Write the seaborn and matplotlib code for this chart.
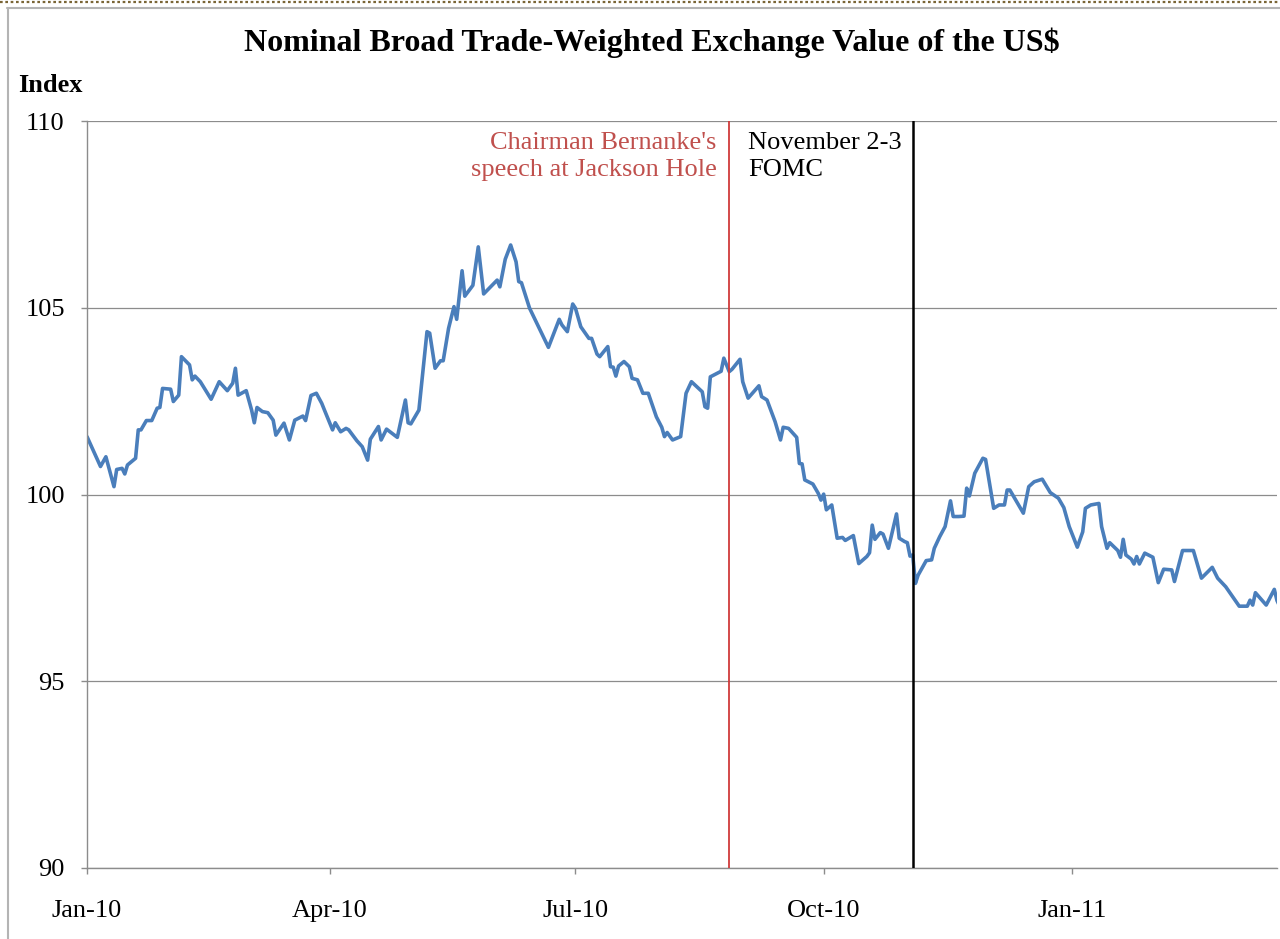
import numpy as np
import pandas as pd
import matplotlib
matplotlib.use("Agg")
import matplotlib.pyplot as plt
import matplotlib.dates as mdates
from matplotlib.lines import Line2D
import seaborn as sns

# ---------------- data ----------------
start_date = "2010-01-01"
end_date = "2011-03-18"
day_offsets = [
    0, 5, 7, 10, 11, 13, 14, 15, 18, 19, 20, 22, 24, 26, 27, 28, 31, 32, 34, 35,
    38, 39, 40, 42, 46, 49, 52, 54, 55, 56, 59, 61, 62, 63, 65, 67, 69, 70, 73, 75,
    77, 80, 81, 83, 85, 87, 88, 91, 92, 94, 96, 97, 100, 102, 104, 105, 108, 109, 111, 115,
    118, 119, 120, 123, 126, 127, 129, 131, 132, 134, 136, 137, 139, 140,
    143, 145, 147, 152, 153, 155, 157, 159, 160, 161, 164, 167, 171, 175, 176, 178,
    180, 181, 183, 186, 187, 189, 190, 193, 194, 195, 196, 197, 199, 201, 202, 204, 206, 208, 211,
    213, 214, 215, 217, 220, 222, 224, 228, 229, 230, 231, 235, 236, 238, 239, 242, 243, 245,
    249, 250, 252, 255, 257, 258, 260, 263, 264, 265, 266, 269, 271, 272, 273, 274, 276, 278,
    280, 281, 284,
    286, 289, 290, 291, 292, 294, 295, 297, 300, 301, 303, 304, 305, 306, 307, 308, 311, 313,
    314, 316, 318, 320, 321, 323, 325, 326, 327, 329, 332, 333, 336, 338, 340, 341, 342, 344,
    347, 349, 351, 354, 357, 360,
    362, 364, 367, 369, 370, 372, 375, 376, 378, 379, 382, 383, 384, 385, 387, 388, 389, 390,
    392, 395, 397, 399, 402, 403, 406, 410, 413, 417, 419, 422, 427, 430, 431, 432, 433, 437,
    440, 441, 442,
]
index_values = [
    101.55, 100.75, 101.01, 100.21, 100.67, 100.70, 100.55, 100.79, 100.97, 101.73,
    101.73, 101.98, 101.98, 102.31, 102.33, 102.84, 102.82, 102.49, 102.66, 103.69,
    103.47, 103.07, 103.17, 103.02, 102.55, 103.02, 102.78, 102.98, 103.38, 102.66,
    102.78, 102.26, 101.92, 102.33, 102.22, 102.19, 101.99, 101.59, 101.91, 101.46,
    101.99, 102.10, 101.98, 102.65, 102.71, 102.44, 102.26, 101.73, 101.92, 101.68,
    101.77, 101.73, 101.44, 101.28, 100.92, 101.48, 101.82, 101.46, 101.75, 101.53,
    102.53, 101.92, 101.89, 102.26, 104.36, 104.32, 103.38, 103.58, 103.58, 104.45,
    105.03, 104.69, 105.99, 105.31,
    105.60, 106.63, 105.37, 105.74, 105.56, 106.30, 106.68, 106.23, 105.70, 105.67,
    104.99, 104.54, 103.94, 104.69, 104.54, 104.36,
    105.10, 104.99, 104.49, 104.18, 104.18, 103.76, 103.69, 103.96, 103.42, 103.41,
    103.17, 103.44, 103.56, 103.42, 103.11, 103.07, 102.71, 102.71, 102.08,
    101.80, 101.55, 101.66, 101.46, 101.55, 102.71, 103.02, 102.75, 102.35, 102.31,
    103.15, 103.30, 103.65, 103.29, 103.35, 103.62, 103.02, 102.58,
    102.91, 102.62, 102.53, 101.95, 101.46, 101.80, 101.77, 101.53, 100.83, 100.82,
    100.39, 100.28, 100.03, 99.85, 100.01, 99.59, 99.72, 98.83,
    98.85, 98.77, 98.90,
    98.15, 98.34, 98.44, 99.18, 98.80, 98.98, 98.94, 98.56, 99.48, 98.83,
    98.74, 98.71, 98.35, 98.38, 97.62, 97.84, 98.23, 98.25,
    98.56, 98.87, 99.14, 99.83, 99.41, 99.41, 99.42, 100.17, 99.96, 100.57,
    100.97, 100.94, 99.63, 99.72, 99.72, 100.12, 100.12, 99.87,
    99.50, 100.21, 100.34, 100.41, 100.05, 99.90,
    99.65, 99.14, 98.59, 99.00, 99.63, 99.72, 99.76, 99.14, 98.56, 98.71,
    98.50, 98.32, 98.80, 98.38, 98.27, 98.14, 98.34, 98.14,
    98.43, 98.32, 97.64, 98.00, 97.98, 97.67, 98.50, 98.50, 97.76, 98.05,
    97.76, 97.53, 97.01, 97.01, 97.17, 97.04, 97.37, 97.04,
    97.46, 97.16, 97.01,
]
event_dates = ["2010-08-27", "2010-11-03"]
event_labels = ["Chairman Bernanke's\nspeech at Jackson Hole", "November 2-3\nFOMC"]
y_ticks = [90, 95, 100, 105, 110]
x_tick_dates = ["2010-01-01", "2010-04-01", "2010-07-01", "2010-10-01", "2011-01-01"]
title = "Nominal Broad Trade-Weighted Exchange Value of the US$"
y_label = "Index"

assert len(day_offsets) == len(index_values)

dates = pd.Timestamp(start_date) + pd.to_timedelta(day_offsets, unit="D")
df = pd.DataFrame({"date": dates, "value": index_values})

# ---------------- style ----------------
sns.set_theme(style="white")
plt.rcParams["font.family"] = ["Liberation Serif", "DejaVu Serif"]
plt.rcParams["text.color"] = "black"
plt.rcParams["xtick.labelcolor"] = "black"
plt.rcParams["ytick.labelcolor"] = "black"

fig = plt.figure(figsize=(12.8, 9.39), dpi=100)
ax = fig.add_axes([87 / 1280, 1 - 868 / 939, (1277 - 87) / 1280, (868 - 121) / 939])

sns.lineplot(data=df, x="date", y="value", ax=ax, color="#4A7EBB", linewidth=2.6)

grid_c = "#8C8C8C"
ax.set_ylim(90, 110)
ax.set_yticks(y_ticks)
ax.set_xlim(pd.Timestamp(start_date), pd.Timestamp(end_date))
ax.set_xticks(pd.to_datetime(x_tick_dates))
ax.xaxis.set_major_formatter(mdates.DateFormatter("%b-%y"))
ax.yaxis.grid(True, color=grid_c, linewidth=0.9)
ax.xaxis.grid(False)
for s in ["top", "right"]:
    ax.spines[s].set_visible(False)
for s in ["left", "bottom"]:
    ax.spines[s].set_color(grid_c)
    ax.spines[s].set_linewidth(1.0)
ax.tick_params(axis="y", which="major", direction="out", length=4, width=1, color=grid_c,
               labelsize=19, pad=12, left=True, labelcolor="black")
ax.tick_params(axis="x", which="major", direction="out", length=4, width=1, color=grid_c,
               labelsize=19, pad=19, bottom=True, labelcolor="black")
ax.set_xlabel("")
ax.set_ylabel("")

# event lines
ev = pd.to_datetime(event_dates)
ax.axvline(ev[0], color="#D03A3A", linewidth=1.3, zorder=3)
ax.axvline(ev[1], color="black", linewidth=1.8, zorder=3)

ax.annotate(event_labels[0], xy=(ev[0], 1.0), xycoords=("data", "axes fraction"),
            xytext=(-9, -8), textcoords="offset points", ha="right", va="top",
            fontsize=19, color="#C0504D", linespacing=1.3)
ax.annotate(event_labels[1], xy=(ev[0], 1.0), xycoords=("data", "axes fraction"),
            xytext=(13.5, -8), textcoords="offset points", ha="left", va="top",
            fontsize=19, color="black", linespacing=1.3)

# titles
fig.text(652 / 1280, 1 - 43 / 939, title, ha="center", va="center",
         fontsize=23, fontweight="bold", color="black")
fig.text(18 / 1280, 1 - 86 / 939, y_label, ha="left", va="center",
         fontsize=19, fontweight="bold", color="black")

# outer frame (chart border) and dotted line at top
fig.add_artist(Line2D([7 / 1280, 1.0], [1 - 7.5 / 939, 1 - 7.5 / 939], transform=fig.transFigure,
                      color="#B4B4B4", linewidth=1.5))
fig.add_artist(Line2D([7.5 / 1280, 7.5 / 1280], [1 - 7.5 / 939, 0.0], transform=fig.transFigure,
                      color="#B4B4B4", linewidth=1.5))
fig.add_artist(Line2D([0, 1.0], [1 - 1.5 / 939, 1 - 1.5 / 939], transform=fig.transFigure,
                      color="#7A6535", linewidth=1.6, linestyle=(0, (1.2, 1.2))))

fig.savefig("out.png", dpi=100)
